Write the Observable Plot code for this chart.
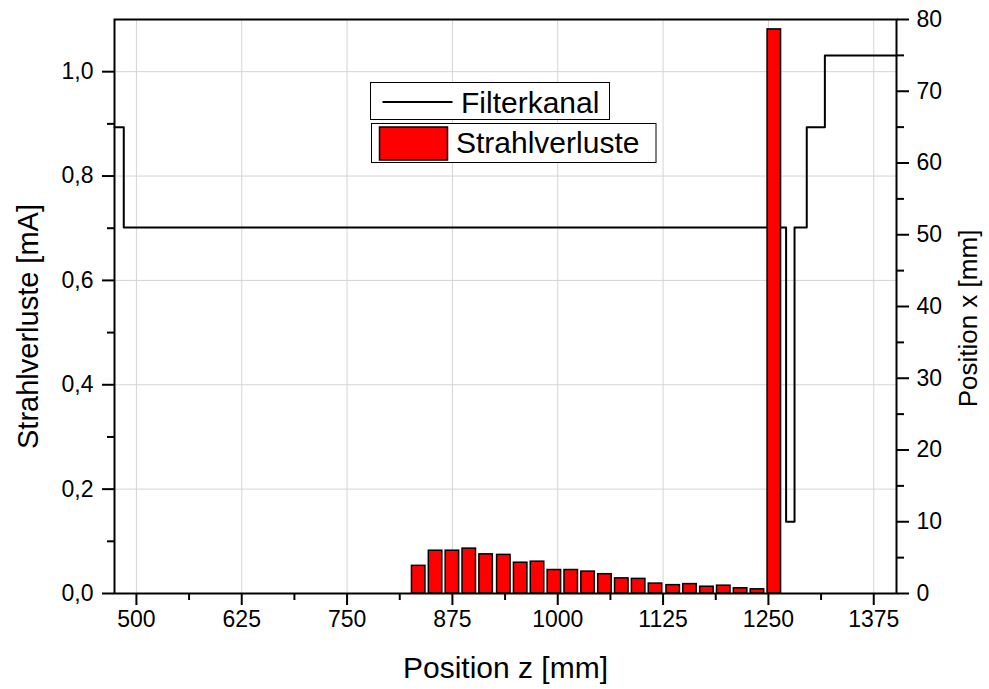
<!DOCTYPE html>
<html><head><meta charset="utf-8">
<script src="https://cdn.jsdelivr.net/npm/d3@7"></script>
<script src="https://cdn.jsdelivr.net/npm/@observablehq/plot@0.6"></script>
<style>body{margin:0;background:#fff}</style>
</head><body><div id="chart"></div>
<script>
// Strahlverluste (beam losses) per position bin
const barPositionZ = [835, 855, 875, 895, 915, 936, 956, 976, 996, 1016, 1036, 1056, 1076, 1096, 1116, 1137, 1157, 1177, 1197, 1217, 1237, 1257];
const barLossMA = [0.053, 0.082, 0.082, 0.086, 0.075, 0.074, 0.059, 0.061, 0.045, 0.045, 0.042, 0.037, 0.029, 0.028, 0.019, 0.016, 0.018, 0.013, 0.015, 0.010, 0.008, 1.081];
// Filterkanal (filter channel) step outline
const filterZ = [474, 485, 1271, 1281, 1295.5, 1317, 1402];
const filterXmm = [65, 51, 10, 51, 65, 75, 75];
// ticks
const xMajorTicks = [500, 625, 750, 875, 1000, 1125, 1250, 1375];
const xMinorTicks = [562.5, 687.5, 812.5, 937.5, 1062.5, 1187.5, 1312.5];
const yLeftMajor = [0, 0.2, 0.4, 0.6, 0.8, 1.0];
const yLeftMinor = [0.1, 0.3, 0.5, 0.7, 0.9];
const yRightMajor = [0, 10, 20, 30, 40, 50, 60, 70, 80];
const yRightMinor = [5, 15, 25, 35, 45, 55, 65, 75];
const seriesNames = ["Filterkanal", "Strahlverluste"];
const xTitle = "Position z [mm]";
const yLeftTitle = "Strahlverluste [mA]";
const yRightTitle = "Position x [mm]";

const yMax = 1.1, mmMax = 80;
const k = yMax / mmMax;
const bars = barPositionZ.map((z, i) => ({z, v: barLossMA[i]}));
const filter = filterZ.map((z, i) => ({z, mm: filterXmm[i]}));
const fmtComma = d => d.toFixed(1).replace(".", ",");
const tickStyle = {strokeWidth: 2, label: null};

const plot = Plot.plot({
  width: 989, height: 689,
  marginLeft: 114, marginRight: 93, marginTop: 19, marginBottom: 96,
  x: {domain: [474, 1402], label: null},
  y: {domain: [0, yMax], label: null},
  style: {fontFamily: "'Liberation Sans', Arial, sans-serif", fontSize: "23px", color: "black", background: "white"},
  marks: [
    Plot.gridX(xMajorTicks, {stroke: "#d4d4d4", strokeOpacity: 1, strokeWidth: 1}),
    Plot.gridY(yLeftMajor, {stroke: "#d4d4d4", strokeOpacity: 1, strokeWidth: 1}),
    Plot.line(filter, {x: "z", y: d => d.mm * k, curve: "step-after", stroke: "black", strokeWidth: 2}),
    Plot.rectY(bars, {x1: d => d.z - 8, x2: d => d.z + 8, y: "v", fill: "#ff0000", stroke: "black", strokeWidth: 1.5}),
    Plot.frame({stroke: "black", strokeWidth: 2}),
    Plot.axisX(xMajorTicks, {...tickStyle, tickSize: 12, tickPadding: 5, tickFormat: d => String(d)}),
    Plot.axisX(xMinorTicks, {...tickStyle, tickSize: 7, tickFormat: () => ""}),
    Plot.axisY(yLeftMajor, {...tickStyle, anchor: "left", tickSize: 12, tickPadding: 9, tickFormat: fmtComma}),
    Plot.axisY(yLeftMinor, {...tickStyle, anchor: "left", tickSize: 7, tickFormat: () => ""}),
    Plot.axisY(yRightMajor.map(v => v * k), {...tickStyle, anchor: "right", tickSize: 12, tickPadding: 8, tickFormat: d => String(Math.round(d / k))}),
    Plot.axisY(yRightMinor.map(v => v * k), {...tickStyle, anchor: "right", tickSize: 7, tickFormat: () => ""}),
    Plot.text([xTitle], {text: d => d, frameAnchor: "bottom", textAnchor: "middle", lineAnchor: "middle", dy: 75, fontSize: 30}),
    Plot.text([yLeftTitle], {text: d => d, frameAnchor: "left", textAnchor: "middle", lineAnchor: "middle", rotate: -90, dx: -86, dy: 20, fontSize: 29}),
    Plot.text([yRightTitle], {text: d => d, frameAnchor: "right", textAnchor: "middle", lineAnchor: "middle", rotate: -90, dx: 72, dy: 12, fontSize: 26})
  ]
});

// legend
const svg = d3.select(plot);
const lg = svg.append("g").attr("font-family", "'Liberation Sans', Arial, sans-serif").attr("font-size", 30).attr("fill", "black").attr("text-anchor", "start");
lg.append("rect").attr("x", 370.5).attr("y", 82.5).attr("width", 239).attr("height", 37).attr("fill", "white").attr("stroke", "black").attr("stroke-width", 1);
lg.append("line").attr("x1", 382.5).attr("x2", 452.5).attr("y1", 102).attr("y2", 102).attr("stroke", "black").attr("stroke-width", 2);
lg.append("text").attr("x", 461).attr("y", 112.5).text(seriesNames[0]);
lg.append("rect").attr("x", 371.5).attr("y", 123.5).attr("width", 284.5).attr("height", 39).attr("fill", "white").attr("stroke", "black").attr("stroke-width", 1);
lg.append("rect").attr("x", 379.5).attr("y", 127).attr("width", 68).attr("height", 33).attr("fill", "#ff0000").attr("stroke", "black").attr("stroke-width", 1.5);
lg.append("text").attr("x", 456).attr("y", 152.5).text(seriesNames[1]);

document.getElementById("chart").append(plot);
</script>
</body></html>
